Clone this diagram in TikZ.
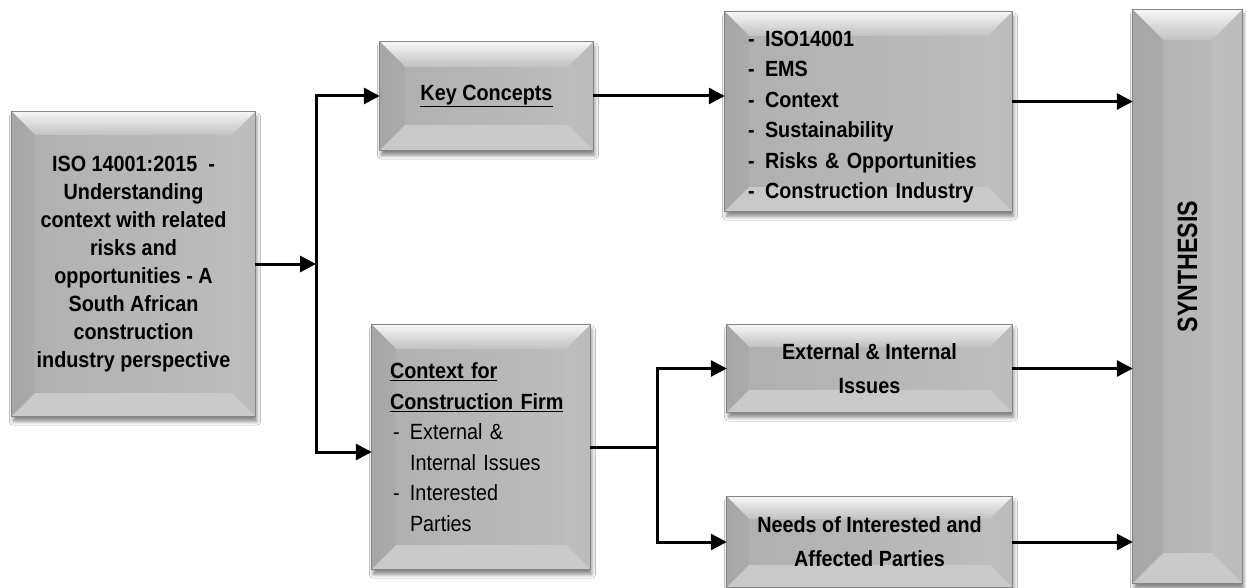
\documentclass[tikz,border=0pt]{standalone}
\usepackage{fontspec}
\setmainfont{Liberation Sans}[FakeStretch=0.9]
\usetikzlibrary{arrows.meta,calc,shadows.blur,backgrounds}

\definecolor{face}{HTML}{BEBEBE}
\definecolor{bevlight}{HTML}{F6F6F6}
\definecolor{bevleft}{HTML}{A6A6A6}
\definecolor{bevright}{HTML}{BBBBBB}
\definecolor{bevbottom}{HTML}{C9C9C9}
\definecolor{rim}{HTML}{858585}

% Bevelled grey panel drawn behind a named node: #1 node name, #2 bevel depth (pt)
\newcommand\bevelpanel[2]{%
  \fill[face, blur shadow={shadow xshift=1.5pt, shadow yshift=-5pt,
        shadow blur radius=4pt, shadow opacity=50}]
    (#1.north west) rectangle (#1.south east);
  \shade[left color=face!92!black, right color=face]
    (#1.north west) rectangle (#1.south east);
  \shade[top color=bevlight, bottom color=face!95!white]
    (#1.north west) -- (#1.north east) -- ($(#1.north east)+(-#2pt,-#2pt)$)
    -- ($(#1.north west)+(#2pt,-#2pt)$) -- cycle;
  \shade[left color=bevleft, right color=face!90!black]
    (#1.north west) -- ($(#1.north west)+(#2pt,-#2pt)$)
    -- ($(#1.south west)+(#2pt,#2pt)$) -- (#1.south west) -- cycle;
  \shade[left color=face, right color=bevright]
    (#1.north east) -- ($(#1.north east)+(-#2pt,-#2pt)$)
    -- ($(#1.south east)+(-#2pt,#2pt)$) -- (#1.south east) -- cycle;
  \fill[bevbottom]
    (#1.south west) -- ($(#1.south west)+(#2pt,#2pt)$)
    -- ($(#1.south east)+(-#2pt,#2pt)$) -- (#1.south east) -- cycle;
  \draw[rim, line width=1.2pt] (#1.north west) rectangle (#1.south east);
}

\tikzset{
  panel/.style={rectangle, inner sep=0pt, align=center,
    font=\bfseries\fontsize{22}{28}\selectfont},
  arr/.style={line width=3pt, -{Triangle[length=16pt,width=16pt]}},
  wire/.style={line width=3pt},
}

\newcommand\dashitem{\makebox[17pt][l]{-}}

\begin{document}
\begin{tikzpicture}[x=1pt, y=-1pt]
  \useasboundingbox (0,0) rectangle (1246,588);

  % boxes
  \node[panel, minimum width=243pt, minimum height=304pt] (iso) at (133.5,264)
    {ISO 14001:2015~~-\\Understanding\\context with related\\risks and\\opportunities - A\\South African\\construction\\industry perspective};

  \node[panel, minimum width=213pt, minimum height=108pt] (kc) at (486.5,96)
    {\underline{Key Concepts}};

  \node[panel, minimum width=287pt, minimum height=199pt, inner xsep=23pt,
        text width=241pt, align=left,
        font=\bfseries\fontsize{22}{30.5}\selectfont] (list) at (868.5,111.5)
    {\rule{0pt}{27pt}\dashitem ISO14001\\\dashitem EMS\\\dashitem Context\\\dashitem Sustainability\\\dashitem Risks \& Opportunities\\\dashitem Construction Industry};

  \node[panel, minimum width=218pt, minimum height=244pt, inner xsep=18pt,
        text width=182pt, align=left,
        font=\fontsize{22}{30.5}\selectfont] (ctx) at (481,447)
    {\textbf{\underline{Context for}}\\\textbf{\underline{Construction Firm}}\\
     \makebox[20pt][l]{\hspace{3pt}-}External \&\\\hspace*{20pt}Internal Issues\\
     \makebox[20pt][l]{\hspace{3pt}-}Interested\\\hspace*{20pt}Parties};

  \node[panel, minimum width=285pt, minimum height=87pt,
        font=\bfseries\fontsize{22}{34}\selectfont] (ext) at (869.5,368.5)
    {External \& Internal\\Issues};

  \node[panel, minimum width=285pt, minimum height=90pt,
        font=\bfseries\fontsize{22}{34}\selectfont] (needs) at (869.5,542)
    {Needs of Interested and\\Affected Parties};

  \node[panel, minimum width=109pt, minimum height=573pt,
        font=\bfseries\fontsize{28}{30}\selectfont] (syn) at (1187.5,296.5)
    {\rotatebox{90}{\hspace*{60pt}\scalebox{0.92}[1]{SYNTHESIS}}};

  % bevelled panels behind the texts
  \begin{scope}[on background layer]
    \fill[white] (0,0) rectangle (1246,588);
    \bevelpanel{iso}{23}
    \bevelpanel{kc}{25}
    \bevelpanel{list}{24}
    \bevelpanel{ctx}{24}
    \bevelpanel{ext}{22}
    \bevelpanel{needs}{22}
    \bevelpanel{syn}{30}
  \end{scope}

  % connectors
  \coordinate (jl) at (316,264);
  \coordinate (jr) at (657,447);
  \coordinate (lout) at ($(list.east)+(0,-10)$);

  \draw[arr] (iso.east) -- (jl);
  \draw[arr] (jl) |- (kc.west);
  \draw[arr] (jl) |- ($(ctx.west)+(0,5)$);
  \draw[arr] (kc.east) -- (kc.east -| list.west);
  \draw[arr] (lout) -- (lout -| syn.west);
  \draw[wire] (ctx.east) -- (jr);
  \draw[arr] (jr) |- (ext.west);
  \draw[arr] (jr) |- (needs.west);
  \draw[arr] (ext.east) -- (ext.east -| syn.west);
  \draw[arr] (needs.east) -- (needs.east -| syn.west);
\end{tikzpicture}
\end{document}
